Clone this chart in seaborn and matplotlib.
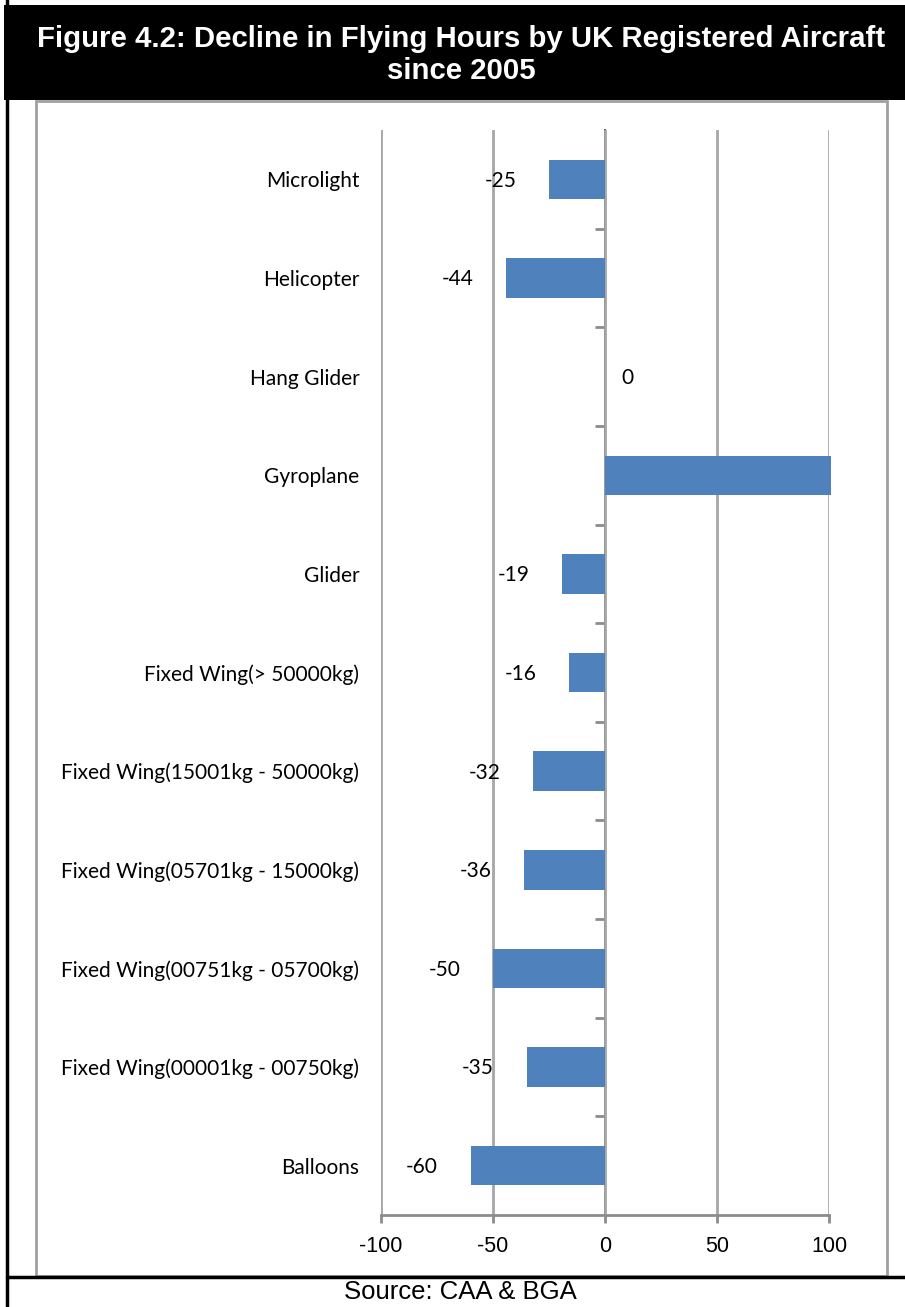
import matplotlib
matplotlib.use("Agg")
import matplotlib.pyplot as plt
from matplotlib.patches import Rectangle
from matplotlib.lines import Line2D
import seaborn as sns
import pandas as pd

# Percentage change in flying hours by aircraft class since 2005
categories = [
    "Microlight",
    "Helicopter",
    "Hang Glider",
    "Gyroplane",
    "Glider",
    "Fixed Wing(> 50000kg)",
    "Fixed Wing(15001kg - 50000kg)",
    "Fixed Wing(05701kg - 15000kg)",
    "Fixed Wing(00751kg - 05700kg)",
    "Fixed Wing(00001kg - 00750kg)",
    "Balloons",
]
change = [-25, -44, 0, 101, -19, -16, -32, -36, -50, -35, -60]
x_ticks = [-100, -50, 0, 50, 100]

title = "Figure 4.2: Decline in Flying Hours by UK Registered Aircraft\nsince 2005"
source = "Source: CAA & BGA"

df = pd.DataFrame({"category": categories, "change": change})

sns.set_theme(style="white")
plt.rcParams["font.family"] = ["Lato", "DejaVu Sans"]
ARIAL = ["Liberation Sans", "DejaVu Sans"]

W, H = 905, 1307
fig = plt.figure(figsize=(W / 100, H / 100), dpi=100)

def fx(px):
    return px / W

def fy(py):
    return 1 - py / H

# Page furniture: black title band, outer rules and inner grey frame
fig.add_artist(Rectangle((fx(4), fy(100)), fx(905 - 4), fy(5) - fy(100),
                         transform=fig.transFigure, facecolor="black",
                         edgecolor="none", zorder=0))
fig.add_artist(Line2D([fx(7), fx(7)], [0, 1], transform=fig.transFigure,
                      color="black", lw=2.5))
fig.add_artist(Line2D([fx(7), 1], [fy(1277), fy(1277)], transform=fig.transFigure,
                      color="black", lw=2.5))
fig.add_artist(Rectangle((fx(36), fy(1276)), fx(887 - 36), fy(101) - fy(1276),
                         transform=fig.transFigure, facecolor="none",
                         edgecolor="#a0a0a0", lw=2, zorder=1))

fig.text(fx(461), fy(55), title, ha="center", va="center", color="white",
         fontsize=21.2, fontweight="bold", linespacing=1.22, family=ARIAL)
fig.text(fx(460), fy(1292), source, ha="center", va="center", color="black",
         fontsize=18.5, family=ARIAL)

ax = fig.add_axes([fx(381), fy(1215), fx(829 - 381), fy(130) - fy(1215)])
sns.barplot(data=df, x="change", y="category", order=categories, orient="h",
            color="#4F81BD", saturation=1, width=0.4, linewidth=0, ax=ax,
            zorder=3)
for bar in ax.patches:
    bar.set_clip_on(False)

ax.set_xlim(-100, 100)
ax.set_xticks(x_ticks)
ax.set_xticklabels([str(t) for t in x_ticks], family=ARIAL, fontsize=15.5)
ax.set_xlabel("")
ax.set_ylabel("")
ax.xaxis.grid(True, color="#a6a6a6", lw=2, zorder=0)
ax.set_axisbelow(True)

for side in ["top", "right", "left"]:
    ax.spines[side].set_visible(False)
ax.spines["bottom"].set_color("#8c8c8c")
ax.spines["bottom"].set_linewidth(2)
ax.tick_params(axis="x", bottom=True, length=6, width=2, color="#8c8c8c",
               pad=9, labelcolor="black")
ax.tick_params(axis="y", left=False, length=0, pad=15.5, labelsize=15,
               labelcolor="black")

# Vertical axis crossing at zero, ticks at category boundaries
zero_axis = ax.secondary_yaxis(0.5)
zero_axis.spines["left"].set_color("#7f7f7f")
zero_axis.spines["left"].set_linewidth(3)
zero_axis.set_yticks([i + 0.5 for i in range(len(categories) - 1)])
zero_axis.set_yticklabels([])
zero_axis.tick_params(axis="y", which="both", left=True, right=False,
                      direction="out", length=7, width=2, color="#8c8c8c")

# Value labels beside each bar end (ends beyond the axis range carry none)
x_lo, x_hi = ax.get_xlim()
for i, v in enumerate(change):
    if not (x_lo <= v <= x_hi):
        continue
    off = -35 if v < 0 else 16
    ax.annotate(f"{v:g}", xy=(v, i), xytext=(off, -1),
                textcoords="offset points", ha="center", va="center",
                fontsize=15, color="black")

fig.savefig("out.png", dpi=100, facecolor="white")
